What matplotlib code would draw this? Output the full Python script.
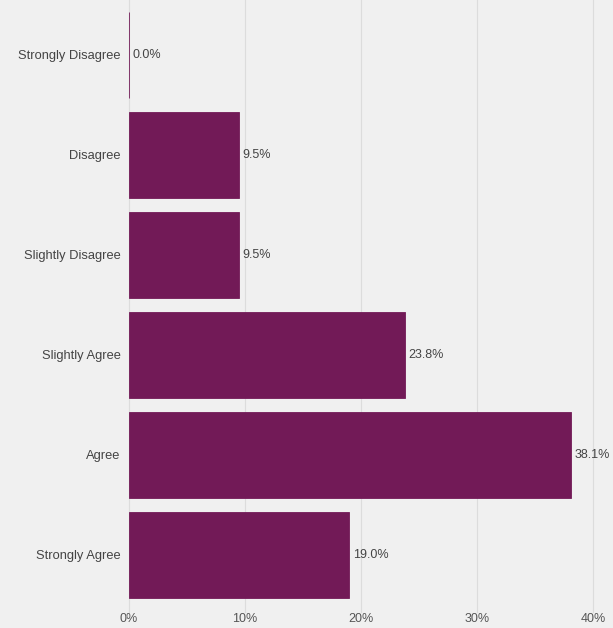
import matplotlib
matplotlib.use('Agg')
import matplotlib.pyplot as plt

# survey answers, top to bottom
categories = ['Strongly Disagree', 'Disagree', 'Slightly Disagree',
              'Slightly Agree', 'Agree', 'Strongly Agree']
percents = [0.0, 9.5, 9.5, 23.8, 38.1, 19.0]
xticks = [0, 10, 20, 30, 40]

plt.rcParams['font.family'] = ['Liberation Sans', 'DejaVu Sans']

bg = '#f0f0f0'
barColor = '#721a57'

fig = plt.figure(figsize=(6.13, 6.28), dpi=100)
fig.patch.set_facecolor(bg)
ax = fig.add_axes([129 / 613, 23 / 628, (593 - 129) / 613, 600 / 628])
ax.set_facecolor(bg)

ypos = list(range(len(categories)))
ax.barh(ypos, percents, height=0.86, color=barColor, edgecolor=barColor,
        linewidth=0.6, zorder=3)
for y, v in zip(ypos, percents):
    ax.text(v + 0.3, y, '%.1f%%' % v, va='center', ha='left',
            fontsize=9, color='#444444', zorder=4, clip_on=False)

# gridlines run a little past the bars, top and bottom
for t in xticks:
    ax.plot([t, t], [-0.55, 5.57], color='#dcdcdc', linewidth=0.8,
            zorder=0, clip_on=False)

ax.set_ylim(len(categories) - 0.5, -0.5)
ax.set_xlim(0, 40)
ax.set_yticks(ypos)
ax.set_yticklabels(categories, fontsize=9.3, color='#444444')
ax.set_xticks(xticks)
ax.set_xticklabels(['%d%%' % t for t in xticks], fontsize=9, color='#555555')
ax.tick_params(length=0, pad=6)
for s in ax.spines.values():
    s.set_visible(False)

plt.savefig('out.png', facecolor=bg)
